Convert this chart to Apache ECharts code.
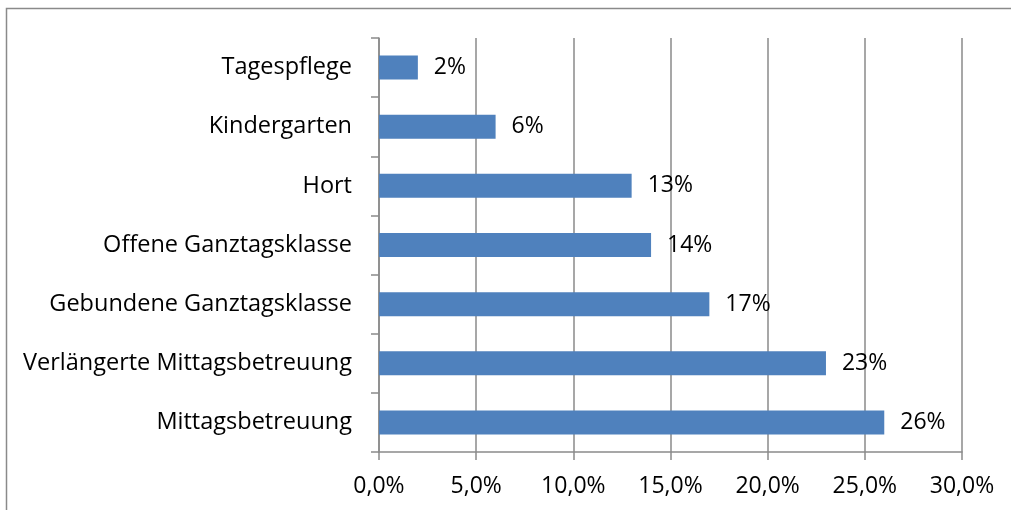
<!DOCTYPE html>
<html>
<head>
<meta charset="utf-8">
<script src="https://cdn.jsdelivr.net/npm/echarts@6/dist/echarts.min.js"></script>
<style>
  html, body { margin: 0; padding: 0; background: #fff; }
  #chart { width: 1011px; height: 510px; }
</style>
</head>
<body>
<div id="chart"></div>
<script>
// categories top to bottom, values in percent
const categories = [
  'Tagespflege',
  'Kindergarten',
  'Hort',
  'Offene Ganztagsklasse',
  'Gebundene Ganztagsklasse',
  'Verlängerte Mittagsbetreuung',
  'Mittagsbetreuung',
];
const values = [2, 6, 13, 14, 17, 23, 26];

const fontFamily = '"Open Sans", Lato, sans-serif';
const gray = '#8a8a8a';

const myChart = echarts.init(document.getElementById('chart'));
const option = {
  animation: false,
  textStyle: { fontFamily: fontFamily },
  graphic: [
    {
      type: 'rect',
      shape: { x: 6.5, y: 8.5, width: 1100, height: 600 },
      style: { fill: 'none', stroke: gray, lineWidth: 1.5 },
      silent: true,
    },
  ],
  grid: {
    left: 379,
    right: 49,
    top: 38,
    bottom: 58,
  },
  xAxis: {
    type: 'value',
    min: 0,
    max: 30,
    interval: 5,
    axisLine: { show: true, lineStyle: { color: gray, width: 1.5 } },
    axisTick: { show: true, length: 8, lineStyle: { color: gray, width: 1.5 } },
    splitLine: { show: true, lineStyle: { color: gray, width: 1.5 } },
    axisLabel: {
      margin: 23,
      color: '#000',
      fontSize: 23,
      fontFamily: fontFamily,
      formatter: (v) => v.toFixed(1).replace('.', ',') + '%',
    },
  },
  yAxis: {
    type: 'category',
    inverse: true,
    data: categories,
    axisLine: { show: true, lineStyle: { color: gray, width: 1.5 } },
    axisTick: { show: true, length: 8, lineStyle: { color: gray, width: 1.5 } },
    splitLine: { show: false },
    axisLabel: {
      margin: 27,
      color: '#000',
      fontSize: 23.5,
      fontFamily: fontFamily,
    },
  },
  series: [
    {
      type: 'bar',
      data: values,
      barWidth: 24,
      itemStyle: { color: '#4f81bd' },
      label: {
        show: true,
        position: 'right',
        distance: 16,
        color: '#000',
        fontSize: 23,
        fontFamily: fontFamily,
        formatter: (p) => p.value + '%',
      },
    },
  ],
};
option && myChart.setOption(option);
</script>
</body>
</html>
